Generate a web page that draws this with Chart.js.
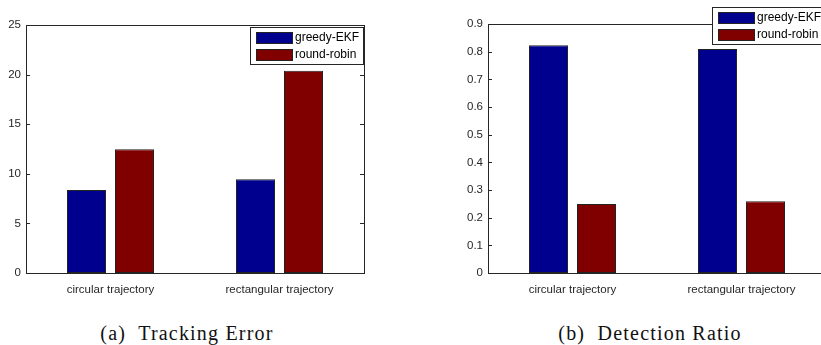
<!DOCTYPE html>
<html><head><meta charset="utf-8">
<script src="https://cdn.jsdelivr.net/npm/chart.js@4/dist/chart.umd.min.js"></script>
<style>
html,body{margin:0;padding:0;background:#fff;width:821px;height:345px;overflow:hidden;position:relative}
.wrap{position:absolute;top:0}
.cap{position:absolute;font-family:"Liberation Serif",serif;font-size:20px;line-height:20px;color:#111;white-space:pre;text-align:center;letter-spacing:1.2px}
</style></head><body>
<div class="wrap" style="left:0px"><canvas id="ca" width="400" height="305"></canvas></div>
<div class="wrap" style="left:430px"><canvas id="cb" width="400" height="305"></canvas></div>
<div class="cap" style="left:77px;top:323px;width:220px">(a)  Tracking Error</div>
<div class="cap" style="left:540px;top:323px;width:220px">(b)  Detection Ratio</div>
<script>
// ---- data ----
const categories = ['circular trajectory', 'rectangular trajectory'];
const seriesNames = ['greedy-EKF', 'round-robin'];
const trackingGreedy = [8.37, 9.44];
const trackingRoundRobin = [12.47, 20.4];
const detectionGreedy = [0.823, 0.81];
const detectionRoundRobin = [0.249, 0.259];
const trackingTicks = [0, 5, 10, 15, 20, 25];
const detectionTicks = [0, 0.1, 0.2, 0.3, 0.4, 0.5, 0.6, 0.7, 0.8, 0.9];

const BLUE = '#00008F', RED = '#800000', INK = '#262626';
const TICKFONT = {family: '"Liberation Sans", Arial, sans-serif', size: 11.5};

const framePlugin = {
  id: 'frame',
  afterDatasetsDraw(chart) {
    const {ctx, chartArea: a} = chart;
    const y = chart.scales.y;
    ctx.save();
    ctx.strokeStyle = INK; ctx.lineWidth = 1;
    ctx.strokeRect(Math.round(a.left) + 0.5, Math.round(a.top) + 0.5,
                   Math.round(a.right - a.left), Math.round(a.bottom - a.top));
    ctx.beginPath();
    y.ticks.forEach(t => {
      const py = Math.round(y.getPixelForValue(t.value)) + 0.5;
      ctx.moveTo(a.left, py); ctx.lineTo(a.left + 4, py);
      ctx.moveTo(a.right - 4, py); ctx.lineTo(a.right, py);
    });
    ctx.stroke();
    ctx.restore();
  }
};

const boxLegend = {
  id: 'boxLegend',
  afterDraw(chart, args, opts) {
    const {ctx, chartArea: a} = chart;
    const w = 113, h = 37;
    const x0 = Math.round(a.right - 1 - w), y0 = Math.round(a.top + opts.dy);
    ctx.save();
    ctx.fillStyle = '#fff';
    ctx.fillRect(x0, y0, w, h);
    ctx.strokeStyle = INK; ctx.lineWidth = 1;
    ctx.strokeRect(x0 + 0.5, y0 + 0.5, w, h);
    ctx.font = '12px "Liberation Sans", Arial, sans-serif';
    ctx.textBaseline = 'middle';
    chart.data.datasets.forEach((ds, i) => {
      const cy = y0 + 10 + i * 17;
      ctx.fillStyle = ds.backgroundColor;
      ctx.fillRect(x0 + 6, Math.round(cy - 5.5), 36, 11);
      ctx.strokeStyle = '#222';
      ctx.strokeRect(x0 + 6.5, Math.round(cy - 5.5) + 0.5, 36, 11);
      ctx.fillStyle = '#000';
      ctx.fillText(ds.label, x0 + 45, cy + 0.5);
    });
    ctx.restore();
  }
};

function makeChart(id, v1, v2, ticks, max, pad, yWidth, legendDy) {
  const common = {borderColor: '#222', borderWidth: 1, borderSkipped: false,
                  categoryPercentage: 0.568, barPercentage: 0.8125};
  return new Chart(document.getElementById(id), {
    type: 'bar',
    data: {
      labels: categories,
      datasets: [
        Object.assign({label: seriesNames[0], data: v1, backgroundColor: BLUE}, common),
        Object.assign({label: seriesNames[1], data: v2, backgroundColor: RED}, common)
      ]
    },
    options: {
      responsive: false, animation: false, devicePixelRatio: 1,
      layout: {padding: pad},
      plugins: {legend: {display: false}, tooltip: {enabled: false}, boxLegend: {dy: legendDy}},
      scales: {
        x: {
          grid: {display: false, drawTicks: false}, border: {display: false},
          ticks: {font: TICKFONT, color: INK, padding: 10, maxRotation: 0, autoSkip: false},
          afterFit(s) { s.height = 305 - 273; }
        },
        y: {
          min: 0, max: max,
          grid: {display: false, drawTicks: false}, border: {display: false},
          ticks: {font: TICKFONT, color: INK, padding: 5, callback: v => String(v)},
          afterBuildTicks(s) { s.ticks = ticks.map(v => ({value: v})); },
          afterFit(s) { s.width = yWidth; }
        }
      }
    },
    plugins: [framePlugin, boxLegend]
  });
}

makeChart('ca', trackingGreedy, trackingRoundRobin, trackingTicks, 25,
  {left: 0, top: 25, right: 36, bottom: 0}, 26, 2);
makeChart('cb', detectionGreedy, detectionRoundRobin, detectionTicks, 0.9,
  {left: 0, top: 24, right: 4, bottom: 0}, 58, -17);
</script>
</body></html>
